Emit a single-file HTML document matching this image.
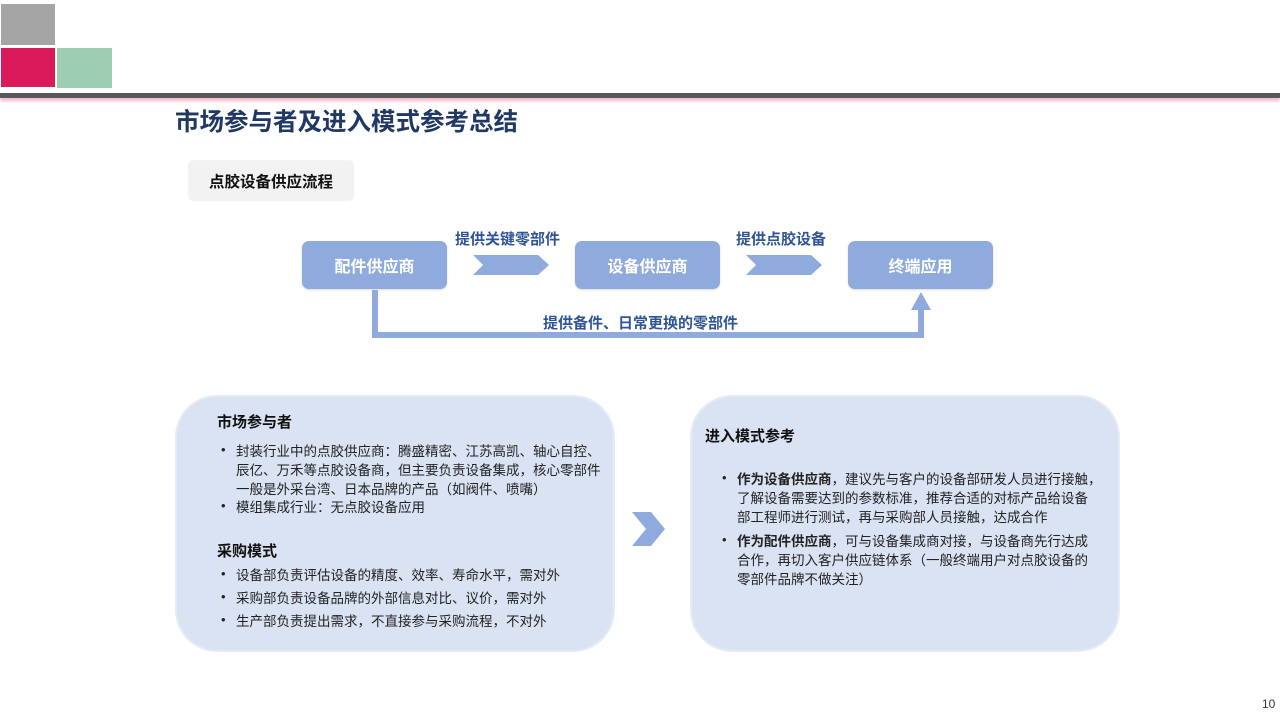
<!DOCTYPE html>
<html><head><meta charset="utf-8"><style>
body{margin:0;width:1280px;height:720px;position:relative;background:#fff;overflow:hidden;font-family:"Liberation Sans","Noto Sans CJK SC",sans-serif;}
.a{position:absolute;}
.box{position:absolute;width:145px;height:48px;background:#8faadc;border-radius:7px;color:#fff;font-size:16px;font-weight:bold;display:flex;align-items:center;justify-content:center;box-shadow:0 1px 2px rgba(0,0,0,.15);}
.lbl{position:absolute;color:#2f5597;font-size:15px;font-weight:bold;white-space:nowrap;}
.panel{position:absolute;background:#dae3f3;border:2px solid #e6ecf7;border-radius:42px;box-sizing:border-box;}
.t{position:absolute;font-size:13.5px;color:#222;white-space:nowrap;line-height:19px;}
.h{position:absolute;font-size:15px;font-weight:bold;color:#111;white-space:nowrap;}
.dot{position:absolute;font-size:13px;color:#222;}
</style></head><body>
<div class="a" style="left:1px;top:4px;width:54px;height:41px;background:#a5a5a5"></div>
<div class="a" style="left:1px;top:48px;width:54px;height:39px;background:#db1a5b"></div>
<div class="a" style="left:57px;top:48px;width:55px;height:40px;background:#9dcdb2"></div>
<div class="a" style="left:0;top:93px;width:1280px;height:5px;background:#595959;box-shadow:0 3px 3px #f4b8cb"></div>
<div class="a" style="left:175px;top:103px;font-size:24.5px;font-weight:bold;color:#1f3864;white-space:nowrap">市场参与者及进入模式参考总结</div>
<div class="a" style="left:189px;top:161px;width:164px;height:39px;background:#f2f2f2;border-radius:4px;box-shadow:0 0 2px #ddd;font-size:15.5px;font-weight:bold;display:flex;align-items:center;justify-content:center;color:#111">点胶设备供应流程</div>

<div class="box" style="left:302px;top:241px">配件供应商</div>
<div class="box" style="left:575px;top:241px">设备供应商</div>
<div class="box" style="left:848px;top:241px">终端应用</div>
<svg class="a" style="left:0;top:0" width="1280" height="720">
<polygon points="473,255 538,255 549,265 538,275 473,275 483,265" fill="#8faadc"/>
<polygon points="746,255 811,255 822,265 811,275 746,275 756,265" fill="#8faadc"/>
<polyline points="375,290 375,335 921,335 921,305" fill="none" stroke="#8faadc" stroke-width="6"/>
<polygon points="911,310 931,310 921,292" fill="#8faadc"/>
<polygon points="632,512 651,512 665,529 651,546 632,546 646,529" fill="#8faadc"/>
</svg>
<div class="lbl" style="left:455px;top:228px">提供关键零部件</div>
<div class="lbl" style="left:736px;top:228px">提供点胶设备</div>
<div class="lbl" style="left:543px;top:312px">提供备件、日常更换的零部件</div>

<div class="panel" style="left:175px;top:395px;width:440px;height:257px"></div>
<div class="h" style="left:217px;top:411px">市场参与者</div>
<div class="dot" style="left:221px;top:442px">•</div>
<div class="t" style="left:236px;top:442px">封装行业中的点胶供应商：腾盛精密、江苏高凯、轴心自控、<br>辰亿、万禾等点胶设备商，但主要负责设备集成，核心零部件<br>一般是外采台湾、日本品牌的产品（如阀件、喷嘴）</div>
<div class="dot" style="left:221px;top:498px">•</div>
<div class="t" style="left:236px;top:498px">模组集成行业：无点胶设备应用</div>
<div class="h" style="left:217px;top:540px">采购模式</div>
<div class="dot" style="left:221px;top:566px">•</div>
<div class="t" style="left:236px;top:566px">设备部负责评估设备的精度、效率、寿命水平，需对外</div>
<div class="dot" style="left:221px;top:589px">•</div>
<div class="t" style="left:236px;top:589px">采购部负责设备品牌的外部信息对比、议价，需对外</div>
<div class="dot" style="left:221px;top:612px">•</div>
<div class="t" style="left:236px;top:612px">生产部负责提出需求，不直接参与采购流程，不对外</div>

<div class="panel" style="left:690px;top:395px;width:430px;height:257px"></div>
<div class="h" style="left:705px;top:425px">进入模式参考</div>
<div class="dot" style="left:722px;top:470px">•</div>
<div class="t" style="left:737px;top:470px"><b>作为设备供应商</b>，建议先与客户的设备部研发人员进行接触，<br>了解设备需要达到的参数标准，推荐合适的对标产品给设备<br>部工程师进行测试，再与采购部人员接触，达成合作</div>
<div class="dot" style="left:722px;top:532px">•</div>
<div class="t" style="left:737px;top:532px"><b>作为配件供应商</b>，可与设备集成商对接，与设备商先行达成<br>合作，再切入客户供应链体系（一般终端用户对点胶设备的<br>零部件品牌不做关注）</div>

<div class="a" style="left:1262px;top:697px;font-size:12px;color:#333">10</div>
</body></html>
